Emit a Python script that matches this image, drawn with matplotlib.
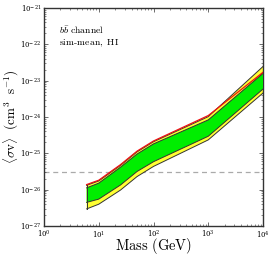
import numpy as np
import matplotlib
matplotlib.use("Agg")
import matplotlib.pyplot as plt

plt.rcParams['mathtext.fontset'] = 'cm'
plt.rcParams['font.family'] = ['DejaVu Serif']

mass = [6, 10, 25, 50, 100, 1000, 10000]
log_yellow_hi = [-25.88, -25.76, -25.33, -24.96, -24.68, -23.99, -22.61]
log_green_hi = [-25.95, -25.82, -25.38, -25.02, -24.74, -24.08, -22.80]
log_green_lo = [-26.35, -26.26, -25.87, -25.50, -25.23, -24.53, -23.23]
log_yellow_lo = [-26.53, -26.40, -26.01, -25.64, -25.36, -24.63, -23.34]
log_red = [-25.86, -25.74, -25.31, -24.94, -24.66, -23.96, -22.77]
thermal = 3e-26

m = np.array(mass)
yh = 10**np.array(log_yellow_hi)
gh = 10**np.array(log_green_hi)
gl = 10**np.array(log_green_lo)
yl = 10**np.array(log_yellow_lo)
rd = 10**np.array(log_red)

fig = plt.figure(figsize=(2.74, 2.57), dpi=100)
ax = fig.add_axes([0.1606, 0.1206, 0.7993, 0.8483])

ax.fill_between(m, yl, yh, facecolor='#ffff33', edgecolor='none', zorder=2)
ax.fill_between(m, gl, gh, facecolor='#00ee00', edgecolor='none', zorder=3)
for arr in (yl, yh):
    ax.plot(m, arr, color='#333333', lw=0.7, zorder=4)
for arr in (gl, gh):
    ax.plot(m, arr, color='#333333', lw=0.7, zorder=4)
ax.plot([m[0], m[0]], [yl[0], yh[0]], color='#333333', lw=0.7, zorder=4)
ax.plot(m, rd, color='#ee1111', lw=0.9, zorder=5)
ax.axhline(thermal, color='#aaaaaa', ls=(0, (4, 3)), lw=0.9, zorder=1)

ax.set_xscale('log')
ax.set_yscale('log')
ax.set_xlim(1, 1e4)
ax.set_ylim(1e-27, 1e-21)
ax.tick_params(which='both', direction='in', top=True, right=True, labelsize=5,
               colors='#333333', labelcolor='black', pad=2)
ax.tick_params(which='major', length=3, width=0.5)
ax.tick_params(which='minor', length=1.5, width=0.4)
for s in ax.spines.values():
    s.set_color('#333333')
    s.set_linewidth(1.0)

ax.set_xlabel(r'$\mathrm{Mass\ (GeV)}$', fontsize=10.5)
ax.xaxis.set_label_coords(0.5, -0.045)
ax.set_ylabel(r'$\langle\sigma \mathrm{v}\rangle\ \ (\mathrm{cm}^3\ \ \mathrm{s}^{-1})$', fontsize=9.5)
ax.yaxis.set_label_coords(-0.105, 0.5)

ax.text(0.07, 0.88, r'$b\bar{b}\ \mathrm{channel}$', transform=ax.transAxes, fontsize=7)
ax.text(0.07, 0.83, r'$\mathrm{sim\text{-}mean,\ HI}$', transform=ax.transAxes, fontsize=7)

fig.savefig('out.png', dpi=100)
